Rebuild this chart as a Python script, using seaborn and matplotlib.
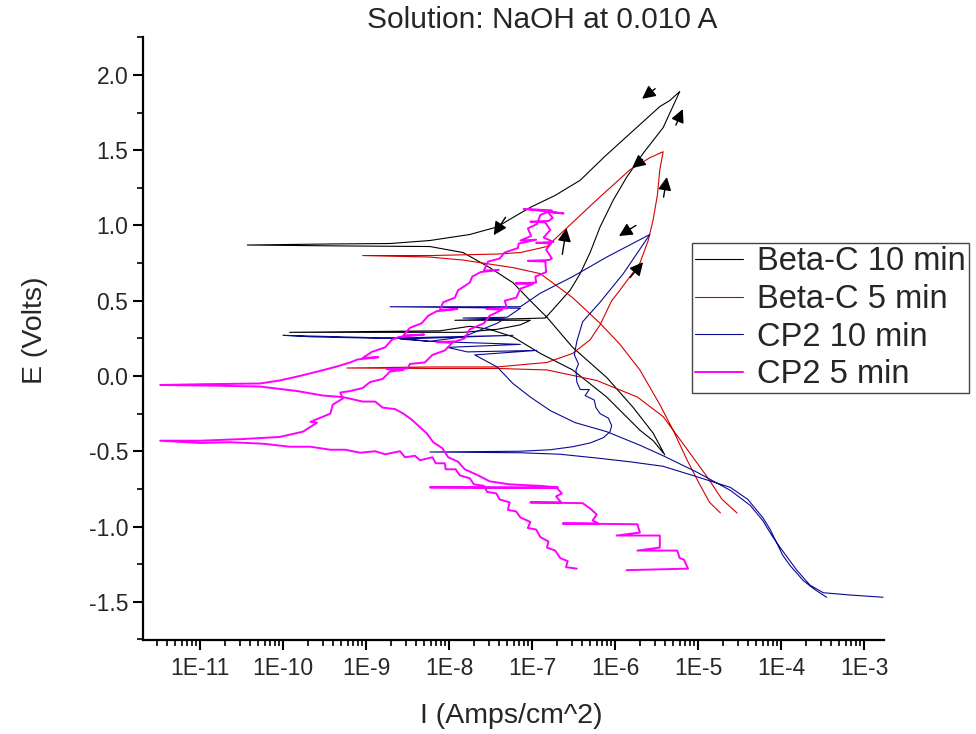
import matplotlib
matplotlib.use('Agg')
import matplotlib.pyplot as plt
from matplotlib.ticker import LogLocator, FuncFormatter, MultipleLocator, NullFormatter
import numpy as np
import pandas as pd
import seaborn as sns

# values: log10 of current (A/cm^2) and potential (V)

# Beta-C 10 min
bc10_fwd_logi = [-5.42, -5.54, -5.70, -6.10, -6.51, -6.90, -7.23, -7.51, -7.75, -8.11, -9.92, -8.05, -7.83,
                 -7.42, -7.14, -7.02, -7.93, -6.84, -6.75, -6.54, -6.42, -6.30, -6.18, -6.02, -5.86, -5.66,
                 -5.42, -5.22]
bc10_fwd_e = [-0.51, -0.43, -0.36, -0.14, 0.04, 0.15, 0.26, 0.31, 0.33, 0.30, 0.29, 0.29, 0.29,
              0.31, 0.34, 0.37, 0.37, 0.385, 0.44, 0.57, 0.68, 0.82, 0.99, 1.17, 1.32, 1.48,
              1.65, 1.89]
bc10_rev_logi = [-5.34, -5.46, -5.82, -6.12, -6.42, -6.72, -7.02, -7.27, -7.42, -7.75, -8.23, -8.71, -9.43,
                 -10.43, -9.31, -8.23, -7.83, -7.51, -7.23, -7.02, -6.82, -6.51, -6.10, -5.78, -5.54, -5.40]
bc10_rev_e = [1.83, 1.79, 1.61, 1.46, 1.30, 1.20, 1.12, 1.04, 0.99, 0.94, 0.90, 0.88, 0.877,
              0.87, 0.864, 0.86, 0.82, 0.72, 0.62, 0.50, 0.39, 0.19, -0.01, -0.21, -0.38, -0.525]

# Beta-C 5 min
bc5_fwd_logi = [-4.53, -4.71, -4.89, -5.18, -5.42, -5.73, -6.22, -6.82, -7.42, -8.23, -9.23, -8.23, -7.42,
                -6.82, -6.51, -6.30, -6.18, -6.04, -5.94, -5.70, -5.60, -5.54, -5.49, -5.46, -5.42]
bc5_fwd_e = [-0.91, -0.82, -0.67, -0.45, -0.27, -0.14, -0.03, 0.04, 0.05, 0.05, 0.053, 0.06, 0.06,
             0.09, 0.15, 0.24, 0.34, 0.50, 0.57, 0.75, 0.90, 1.04, 1.20, 1.37, 1.49]
bc5_rev_logi = [-5.58, -5.82, -6.22, -6.51, -6.82, -7.14, -7.42, -8.23, -9.04, -8.23, -7.83, -7.23, -6.90,
                -6.51, -6.18, -5.94, -5.70, -5.46, -5.30, -5.13, -4.98, -4.86, -4.73]
bc5_rev_e = [1.45, 1.37, 1.17, 1.02, 0.86, 0.82, 0.81, 0.80, 0.80, 0.79, 0.77, 0.72, 0.68,
             0.52, 0.35, 0.21, 0.04, -0.19, -0.36, -0.56, -0.72, -0.84, -0.91]

# CP2 10 min
cp10_fwd_logi = [-3.45, -3.59, -3.73, -3.89, -3.98, -4.13, -4.22, -4.40, -4.61, -5.01, -5.42, -5.82, -6.22,
                 -6.66, -7.14, -8.23, -7.14, -6.78, -6.51, -6.30, -6.14, -6.06, -6.04, -6.08, -6.18, -6.23,
                 -6.25, -6.36, -6.31, -6.42, -6.46, -6.47, -6.44, -6.49, -6.46, -6.39, -6.18, -5.90, -5.58]
cp10_fwd_e = [-1.47, -1.42, -1.36, -1.26, -1.19, -1.02, -0.94, -0.82, -0.74, -0.67, -0.60, -0.57, -0.545,
              -0.52, -0.51, -0.505, -0.50, -0.49, -0.47, -0.445, -0.41, -0.37, -0.33, -0.28, -0.25, -0.21,
              -0.16, -0.13, -0.09, -0.09, -0.04, 0.04, 0.08, 0.14, 0.23, 0.36, 0.49, 0.68, 0.94]
cp10_rev_logi = [-6.10, -6.51, -6.90, -7.14, -8.71, -7.14, -7.30, -7.83, -7.33, -7.42, -7.83, -8.23, -8.59,
                 -10.00, -9.65, -8.83, -7.23, -8.59, -8.23, -7.14, -8.02, -7.78, -6.94, -7.69, -7.42, -7.23,
                 -7.02, -6.78, -6.48, -6.10, -5.70, -5.42, -5.01, -4.61, -4.37, -4.22, -4.11, -4.01, -3.81,
                 -3.65, -3.49, -3.17, -2.77]
cp10_rev_e = [0.79, 0.66, 0.55, 0.46, 0.46, 0.45, 0.39, 0.385, 0.38, 0.35, 0.26, 0.23, 0.25,
              0.27, 0.26, 0.25, 0.27, 0.245, 0.23, 0.21, 0.19, 0.16, 0.17, 0.14, 0.06, -0.05,
              -0.14, -0.23, -0.31, -0.37, -0.46, -0.53, -0.64, -0.76, -0.86, -0.96, -1.06, -1.14, -1.29,
              -1.39, -1.44, -1.455, -1.47]

# CP2 5 min (noisy trace)
cp5_cath_logi = [-6.46, -6.59, -6.57, -6.66, -6.72, -6.82, -6.80, -6.90, -6.95, -7.05,
                 -7.02, -7.14, -7.19, -7.29, -7.27, -7.39, -7.43, -7.54, -7.58, -7.70,
                 -7.75, -7.87, -7.92, -8.04, -8.05, -8.16, -8.20, -8.35, -8.41, -8.53,
                 -8.59, -8.77, -8.89, -9.07, -9.25, -9.43, -9.67, -9.92, -10.24, -10.64,
                 -11.00, -11.48, -11.00, -10.52]
cp5_cath_e = [-1.28, -1.27, -1.23, -1.21, -1.16, -1.14, -1.10, -1.07, -1.02, -1.01,
              -0.97, -0.94, -0.90, -0.89, -0.84, -0.82, -0.78, -0.77, -0.73, -0.72,
              -0.68, -0.66, -0.62, -0.62, -0.58, -0.58, -0.54, -0.56, -0.53, -0.54,
              -0.50, -0.52, -0.50, -0.51, -0.49, -0.49, -0.47, -0.47, -0.45, -0.44,
              -0.445, -0.43, -0.43, -0.42]
cp5_anod_logi = [-10.04, -9.76, -9.59, -9.67, -9.43, -9.40, -9.28, -9.31, -9.19, -9.04,
                 -8.95, -8.80, -8.71, -8.55, -8.75, -8.50, -8.47, -8.29, -8.20, -8.05,
                 -7.96, -8.15, -7.92, -7.81, -7.75, -7.58, -7.51, -7.36, -7.55, -7.30,
                 -7.33, -7.19, -7.14, -6.99, -7.20, -6.95, -6.96, -6.83, -6.84, -7.05,
                 -6.80, -6.76, -6.83, -6.77, -6.95, -6.74, -6.86, -6.78, -6.84, -7.02,
                 -6.80, -6.75, -6.81, -6.62, -7.10, -6.76]
cp5_anod_e = [-0.405, -0.37, -0.31, -0.305, -0.25, -0.19, -0.15, -0.11, -0.10, -0.08,
              -0.04, -0.02, 0.03, 0.04, 0.045, 0.05, 0.08, 0.09, 0.14, 0.17,
              0.22, 0.225, 0.23, 0.25, 0.31, 0.35, 0.40, 0.44, 0.445, 0.45,
              0.50, 0.52, 0.58, 0.61, 0.615, 0.62, 0.66, 0.69, 0.76, 0.765,
              0.77, 0.78, 0.84, 0.88, 0.885, 0.89, 0.92, 0.97, 1.02, 1.025,
              1.03, 1.05, 1.09, 1.08, 1.11, 1.10]
cp5_rev_logi = [-6.90, -6.94, -7.05, -7.01, -7.14, -6.95, -7.16, -7.17, -7.33, -7.39,
                -7.53, -7.58, -7.40, -7.62, -7.72, -7.75, -7.89, -7.93, -8.07, -8.11,
                -7.90, -8.15, -8.25, -8.33, -8.47, -8.55, -8.30, -8.60, -8.69, -8.77,
                -8.93, -9.04, -8.85, -9.10, -9.19, -9.37, -9.58, -9.80, -10.04, -10.28,
                -11.00, -11.48, -10.76, -10.28]
cp5_rev_e = [1.07, 1.01, 0.98, 0.93, 0.90, 0.905, 0.88, 0.85, 0.82, 0.78,
             0.76, 0.70, 0.705, 0.69, 0.66, 0.62, 0.57, 0.52, 0.49, 0.44,
             0.445, 0.43, 0.40, 0.35, 0.32, 0.27, 0.275, 0.26, 0.24, 0.19,
             0.16, 0.12, 0.125, 0.11, 0.09, 0.06, 0.03, 0.0, -0.03, -0.05,
             -0.055, -0.06, -0.065, -0.07]
cp5_revcath_logi = [-9.83, -9.52, -9.28, -9.04, -8.89, -8.80, -8.65, -8.55, -8.45, -8.35,
                    -8.27, -8.19, -8.08, -8.01, -7.89, -7.81, -7.65, -7.51, -7.27, -6.90,
                    -6.69, -8.23, -6.70, -6.64, -6.71, -6.65, -7.02, -6.39, -6.30, -6.22,
                    -6.27, -6.20, -6.63, -5.73, -5.70, -5.98, -5.46, -5.46, -5.73, -5.25,
                    -5.22, -5.17, -5.12, -5.86]
cp5_revcath_e = [-0.10, -0.13, -0.14, -0.17, -0.17, -0.21, -0.22, -0.25, -0.29, -0.34,
                 -0.38, -0.44, -0.48, -0.54, -0.57, -0.62, -0.66, -0.70, -0.72, -0.73,
                 -0.74, -0.74, -0.745, -0.78, -0.80, -0.84, -0.84, -0.845, -0.88, -0.92,
                 -0.96, -0.98, -0.98, -0.985, -1.04, -1.06, -1.06, -1.14, -1.16, -1.16,
                 -1.21, -1.22, -1.28, -1.29]

# scan direction arrows (tail -> head)
arrow_tail_logi = [-5.49, -5.28, -5.64, -7.30, -6.64, -5.42, -5.72, -5.84]
arrow_tail_e = [1.92, 1.65, 1.45, 1.07, 0.79, 1.17, 1.01, 0.64]
arrow_head_logi = [-5.70, -5.17, -5.82, -7.48, -6.58, -5.37, -5.98, -5.64]
arrow_head_e = [1.83, 1.79, 1.37, 0.92, 1.00, 1.34, 0.92, 0.77]

series = [
    ('Beta-C 10 min', bc10_fwd_logi + bc10_rev_logi, bc10_fwd_e + bc10_rev_e, '#000000', 0.8),
    ('Beta-C 5 min', bc5_fwd_logi + bc5_rev_logi, bc5_fwd_e + bc5_rev_e, '#d40000', 0.8),
    ('CP2 10 min', cp10_fwd_logi + cp10_rev_logi, cp10_fwd_e + cp10_rev_e, '#0a0a96', 0.8),
    ('CP2 5 min', cp5_cath_logi + cp5_anod_logi + cp5_rev_logi + cp5_revcath_logi,
     cp5_cath_e + cp5_anod_e + cp5_rev_e + cp5_revcath_e, '#ff00ff', 1.4),
]

sns.set_style('ticks')
plt.rcParams['font.family'] = ['Liberation Sans', 'DejaVu Sans']
plt.rcParams['axes.unicode_minus'] = False

fig = plt.figure(figsize=(9.76, 7.34), dpi=100)
ax = fig.add_axes([143 / 976, 1 - 640 / 734, 741 / 976, 603 / 734])

for name, logi, e, color, lw in series:
    df = pd.DataFrame({'I': 10.0 ** np.array(logi), 'E': e})
    sns.lineplot(data=df, x='I', y='E', sort=False, estimator=None,
                 color=color, linewidth=lw, label=name, ax=ax)

for tx, ty, hx, hy in zip(arrow_tail_logi, arrow_tail_e, arrow_head_logi, arrow_head_e):
    ax.annotate('', xy=(10 ** hx, hy), xytext=(10 ** tx, ty),
                arrowprops=dict(arrowstyle='-|>', color='black', lw=1.0, mutation_scale=20))

ax.set_xscale('log')
ax.set_xlim(10 ** -11.687, 10 ** -2.759)
ax.set_ylim(-1.754, 2.252)

ax.xaxis.set_major_locator(LogLocator(base=10, numticks=20))
ax.xaxis.set_minor_locator(LogLocator(base=10, subs=np.arange(2, 10), numticks=200))
ax.xaxis.set_major_formatter(FuncFormatter(lambda v, p: '1E%d' % round(np.log10(v))))
ax.xaxis.set_minor_formatter(NullFormatter())
ax.yaxis.set_major_locator(MultipleLocator(0.5))
ax.yaxis.set_minor_locator(MultipleLocator(0.25))
ax.yaxis.set_major_formatter(FuncFormatter(lambda v, p: '%.1f' % v))

ax.tick_params(which='major', direction='out', length=7, width=1.5, labelsize=16.5, color='black')
ax.tick_params(axis='x', which='major', pad=5)
ax.tick_params(which='minor', direction='out', length=4, width=1.2, color='black')
sns.despine(ax=ax)
for side in ['left', 'bottom']:
    ax.spines[side].set_linewidth(1.6)
    ax.spines[side].set_color('black')

ax.set_xlabel('I (Amps/cm^2)', fontsize=20.5)
ax.set_ylabel('E (Volts)', fontsize=20.5)
ax.xaxis.set_label_coords((511 - 143) / 741, (640 - 703) / 603)
ax.yaxis.set_label_coords((48 - 143) / 741, (640 - 330) / 603)
fig.text(542 / 976, 1 - 20 / 734, 'Solution: NaOH at 0.010 A', ha='center', va='center', fontsize=21.5)

leg = ax.legend(loc='upper left', bbox_to_anchor=(0.741, 0.658), fontsize=23.5, frameon=True,
                fancybox=False, edgecolor='#444444', framealpha=1, borderaxespad=0, borderpad=0.1,
                labelspacing=0.2, handlelength=1.45, handletextpad=0.45)
leg.get_frame().set_linewidth(1.0)

fig.savefig('out.png', dpi=100)
